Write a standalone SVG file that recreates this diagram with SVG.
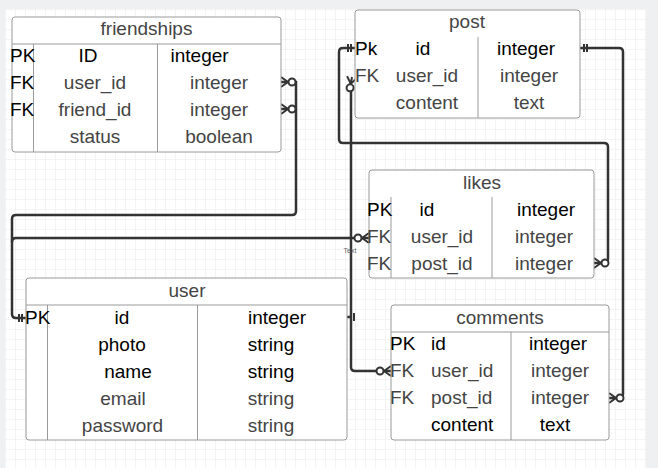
<svg xmlns="http://www.w3.org/2000/svg" xmlns:xlink="http://www.w3.org/1999/xlink" width="658" height="468" viewBox="0 0 658 468">
<style>
.tbl{fill:#fff;stroke:#9a9a9a;stroke-width:1}
.div{stroke:#9a9a9a;stroke-width:1}
text{font-family:"Liberation Sans",Arial,sans-serif;font-size:19px}
.k{fill:#000}
.g{fill:#444}
.m{text-anchor:middle}
.conn{fill:none;stroke:#333;stroke-width:2.5}
.mk{fill:none;stroke:#333;stroke-width:2}
.ring{fill:#fff;stroke:#333;stroke-width:2}
</style>
<defs>
<pattern id="grid" width="10" height="10" patternUnits="userSpaceOnUse" x="5" y="9">
<path d="M10 0H0V10" fill="none" stroke="#e9e9e9" stroke-width="1"/>
</pattern>
<g id="zm">
<path class="mk" d="M0 -5L7 0M0 5L7 0M0 0H8"/>
<circle class="ring" cx="11" cy="0" r="3.5"/>
</g>
<g id="one">
<path class="mk" d="M4 -4V4M7 -4V4"/>
</g>
</defs>
<rect width="658" height="468" fill="#eff0f2"/>
<rect x="5" y="9" width="641" height="459" fill="#fff"/>
<rect x="5" y="9" width="641" height="459" fill="url(#grid)"/>

<g id="connectors">
<path class="conn" d="M281 82H296V211Q296 215 292 215H16Q12 215 12 219V314Q12 318 16 318H26"/>
<path class="conn" d="M281 109H296"/>
<path class="conn" d="M12 242Q12 238 16 238H369"/>
<path class="conn" d="M351 88V367Q351 371 355 371H391"/>
<path class="conn" d="M347 317H351"/>
<path class="conn" d="M355 48H343Q339 48 339 52V139Q339 143 343 143H604Q608 143 608 147V259Q608 263 604 263H594"/>
<path class="conn" d="M580 48H619Q623 48 623 52V394Q623 398 619 398H609"/>
<use xlink:href="#zm" transform="translate(281 82)"/>
<use xlink:href="#zm" transform="translate(281 109)"/>
<use xlink:href="#one" transform="translate(26 318) rotate(180)"/>
<use xlink:href="#zm" transform="translate(369 238) rotate(180)"/>
<use xlink:href="#zm" transform="translate(391 371) rotate(180)"/>
<use xlink:href="#zm" transform="translate(352 77) rotate(100)"/>
<use xlink:href="#one" transform="translate(347 317)"/>
<use xlink:href="#one" transform="translate(355 48) rotate(180)"/>
<use xlink:href="#one" transform="translate(580 48)"/>
<use xlink:href="#zm" transform="translate(594 263)"/>
<use xlink:href="#zm" transform="translate(609 398)"/>
<text x="350" y="253" text-anchor="middle" style="font-size:7px" fill="#666">Text</text>
</g>

<g id="friendships">
<rect class="tbl" x="12" y="17" width="269" height="135" rx="3"/>
<path class="div" d="M12 44H281M33.5 44V152M157.5 44V152"/>
<text class="g m" x="146.5" y="35">friendships</text>
<text class="k" x="10" y="62">PK</text>
<text class="k m" x="88" y="62">ID</text>
<text class="k" x="170.5" y="62">integer</text>
<text class="k" x="10" y="89">FK</text>
<text class="g m" x="95" y="89">user_id</text>
<text class="g m" x="219" y="89">integer</text>
<text class="k" x="10" y="116">FK</text>
<text class="g m" x="95" y="116">friend_id</text>
<text class="g m" x="219" y="116">integer</text>
<text class="g m" x="95" y="143">status</text>
<text class="g m" x="219" y="143">boolean</text>
</g>

<g id="post">
<rect class="tbl" x="355" y="10" width="225" height="108" rx="3"/>
<path class="div" d="M478 37V118"/>
<text class="g m" x="467" y="28">post</text>
<text class="k" x="355" y="55">Pk</text>
<text class="k m" x="423" y="55">id</text>
<text class="k m" x="526" y="55">integer</text>
<text class="g" x="355" y="82">FK</text>
<text class="g m" x="427" y="82">user_id</text>
<text class="g m" x="529" y="82">integer</text>
<text class="g m" x="427" y="109">content</text>
<text class="g m" x="529" y="109">text</text>
</g>

<g id="likes">
<rect class="tbl" x="369" y="170" width="225" height="108" rx="3"/>
<path class="div" d="M391 197V278M492 197V278"/>
<text class="g m" x="482" y="189">likes</text>
<text class="k" x="367" y="216">PK</text>
<text class="k m" x="427" y="216">id</text>
<text class="k m" x="546" y="216">integer</text>
<text class="g" x="367" y="243">FK</text>
<text class="g m" x="442" y="243">user_id</text>
<text class="g m" x="544" y="243">integer</text>
<text class="g" x="367" y="270">FK</text>
<text class="g m" x="442" y="270">post_id</text>
<text class="g m" x="544" y="270">integer</text>
</g>

<g id="user">
<rect class="tbl" x="26" y="278" width="321" height="162" rx="3"/>
<path class="div" d="M26 305H347M47.5 305V440M197.5 305V440"/>
<text class="g m" x="187" y="297">user</text>
<text class="k" x="25" y="324">PK</text>
<text class="k m" x="122" y="324">id</text>
<text class="k m" x="277" y="324">integer</text>
<text class="k m" x="122" y="351">photo</text>
<text class="k m" x="271" y="351">string</text>
<text class="k m" x="128" y="378">name</text>
<text class="k m" x="271" y="378">string</text>
<text class="g m" x="123" y="405">email</text>
<text class="g m" x="271" y="405">string</text>
<text class="g m" x="122.5" y="432">password</text>
<text class="g m" x="271" y="432">string</text>
</g>

<g id="comments">
<rect class="tbl" x="391" y="305" width="218" height="135" rx="3"/>
<path class="div" d="M391 332H609M511 332V440"/>
<text class="g m" x="500" y="324">comments</text>
<text class="k" x="390" y="350">PK</text>
<text class="k" x="431" y="350">id</text>
<text class="k m" x="558" y="350">integer</text>
<text class="g" x="390" y="377">FK</text>
<text class="g" x="431" y="377">user_id</text>
<text class="g m" x="560" y="377">integer</text>
<text class="g" x="390" y="404">FK</text>
<text class="g" x="431" y="404">post_id</text>
<text class="g m" x="560" y="404">integer</text>
<text class="k" x="431" y="431">content</text>
<text class="k m" x="555" y="431">text</text>
</g>
</svg>
